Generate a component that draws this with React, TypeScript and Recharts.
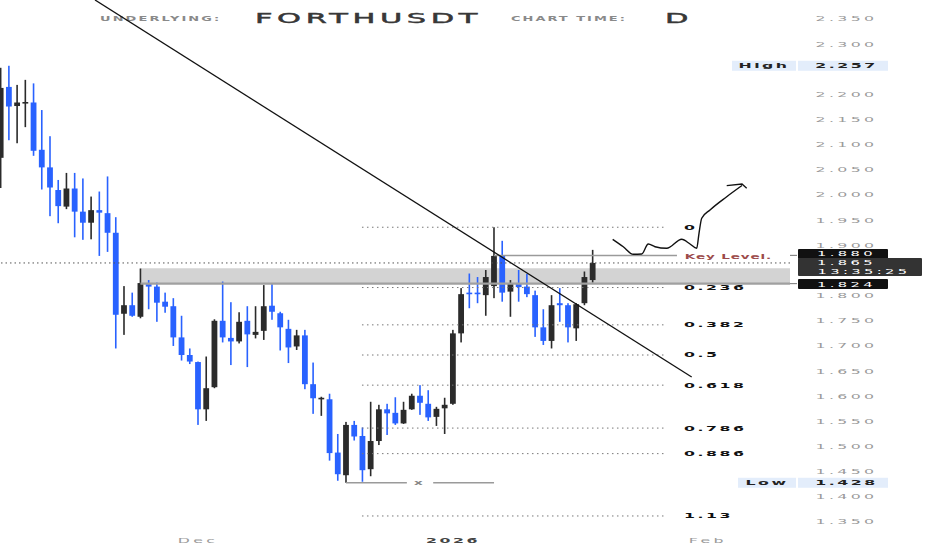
import React from 'react';
import { ComposedChart, Bar, Line, Scatter, XAxis, YAxis, ReferenceLine, ReferenceArea } from 'recharts';

const FONT = '"DejaVu Sans", sans-serif';

// Daily candles, index 0 = 7 Nov 2025
const opens = [2.074, 2.215, 2.177, 2.184, 2.184, 2.090, 2.055, 2.010, 1.977, 2.013, 1.967, 1.945, 1.970, 1.964, 1.925, 1.764, 1.781, 1.758, 1.823, 1.818, 1.788, 1.779, 1.717, 1.682, 1.668, 1.574, 1.618, 1.750, 1.716, 1.709, 1.750, 1.722, 1.730, 1.780, 1.765, 1.734, 1.699, 1.721, 1.624, 1.595, 1.594, 1.488, 1.443, 1.543, 1.521, 1.455, 1.511, 1.574, 1.567, 1.546, 1.574, 1.601, 1.585, 1.559, 1.576, 1.585, 1.725, 1.806, 1.806, 1.801, 1.819, 1.879, 1.808, 1.825, 1.818, 1.801, 1.737, 1.710, 1.785, 1.781, 1.735, 1.785, 1.831];
const highs = [2.253, 2.257, 2.219, 2.229, 2.222, 2.169, 2.117, 2.030, 2.044, 2.044, 2.033, 1.997, 2.007, 2.037, 1.956, 1.819, 1.806, 1.854, 1.831, 1.826, 1.806, 1.795, 1.760, 1.695, 1.669, 1.679, 1.753, 1.828, 1.787, 1.767, 1.779, 1.779, 1.821, 1.823, 1.768, 1.752, 1.732, 1.732, 1.667, 1.599, 1.605, 1.525, 1.549, 1.551, 1.538, 1.589, 1.583, 1.585, 1.598, 1.589, 1.605, 1.622, 1.612, 1.579, 1.597, 1.732, 1.815, 1.844, 1.837, 1.851, 1.936, 1.909, 1.831, 1.851, 1.843, 1.810, 1.773, 1.801, 1.815, 1.785, 1.785, 1.848, 1.891];
const lows = [2.014, 2.109, 2.103, 2.135, 2.078, 2.011, 1.958, 1.944, 1.972, 1.916, 1.911, 1.912, 1.879, 1.887, 1.695, 1.722, 1.758, 1.755, 1.773, 1.748, 1.766, 1.700, 1.671, 1.664, 1.543, 1.551, 1.616, 1.707, 1.662, 1.705, 1.658, 1.715, 1.712, 1.752, 1.691, 1.666, 1.692, 1.614, 1.565, 1.561, 1.472, 1.432, 1.428, 1.512, 1.430, 1.441, 1.503, 1.523, 1.543, 1.545, 1.573, 1.563, 1.551, 1.541, 1.525, 1.583, 1.707, 1.775, 1.785, 1.760, 1.795, 1.788, 1.758, 1.788, 1.797, 1.718, 1.702, 1.695, 1.748, 1.707, 1.710, 1.781, 1.826];
const closes = [2.213, 2.176, 2.184, 2.185, 2.088, 2.055, 2.015, 1.978, 2.013, 1.967, 1.945, 1.970, 1.965, 1.925, 1.762, 1.781, 1.760, 1.825, 1.818, 1.786, 1.778, 1.717, 1.682, 1.669, 1.574, 1.616, 1.750, 1.717, 1.709, 1.748, 1.723, 1.728, 1.779, 1.768, 1.737, 1.697, 1.721, 1.624, 1.596, 1.597, 1.487, 1.445, 1.543, 1.520, 1.453, 1.511, 1.574, 1.566, 1.546, 1.573, 1.601, 1.587, 1.558, 1.575, 1.583, 1.725, 1.803, 1.803, 1.803, 1.837, 1.879, 1.806, 1.825, 1.817, 1.803, 1.737, 1.710, 1.781, 1.781, 1.737, 1.783, 1.837, 1.865];

const xTickIdx = [24, 55, 86];
const xTickLabels = ['Dec', '2026', 'Feb'];
// 1.850 and 2.250 sit under the price boxes, as in the reference
const yTicks = [1.35, 1.4, 1.45, 1.5, 1.55, 1.6, 1.65, 1.7, 1.75, 1.8, 1.9, 1.95, 2.0, 2.05, 2.1, 2.15, 2.2, 2.3, 2.35];

const fibHigh = 1.936;
const fibLow = 1.428;
const fibRatios = [0, 0.236, 0.382, 0.5, 0.618, 0.786, 0.886, 1.13];
const fibNames = ['0', '0.236', '0.382', '0.5', '0.618', '0.786', '0.886', '1.13'];
const fibStartIdx = 43.94;
const fibEndIdx = 80.8;
const fibLabelIdx = 83.11;

const trendLine = [{ i: 11.47, p: 2.3878 }, { i: 84.04, p: 1.6383 }];
const squiggle = [
  { i: 74.43, p: 1.912 }, { i: 75.72, p: 1.8973 }, { i: 76.94, p: 1.8822 }, { i: 77.96, p: 1.8828 },
  { i: 78.76, p: 1.9027 }, { i: 79.58, p: 1.8973 }, { i: 81.0, p: 1.8941 }, { i: 82.83, p: 1.912 },
  { i: 83.84, p: 1.9027 }, { i: 84.65, p: 1.8941 }, { i: 84.93, p: 1.924 }, { i: 85.26, p: 1.9538 },
  { i: 86.27, p: 1.9703 }, { i: 88.3, p: 1.9967 }, { i: 90.16, p: 2.019 },
];
const arrowHead = [{ i: 88.3, p: 2.0186 }, { i: 90.16, p: 2.022 }, { i: 90.73, p: 2.0134 }];

const zoneTop = 1.8544;
const zoneBottom = 1.824;
const zoneStartIdx = 17;
const keyLevel = 1.88;
const keyLevelSeg = [60, 82.25];
const lastPrice = 1.865;
const lastTime = '13:35:25';
const highPrice = 2.257;
const lowPrice = 1.428;
const lowSegA = [42, 49.4];
const lowSegB = [52.6, 60];

const X_MIN = -0.0851;
const X_MAX = 95.997;
const Y_MIN = 1.334095;
const Y_MAX = 2.387773;

const candles = opens.map((o, i) => ({ i, o, h: highs[i], l: lows[i], c: closes[i] }));
const fibLevels = fibRatios.map((r) => fibHigh - r * (fibHigh - fibLow));
const fibLabelData = fibLevels.map((p, k) => ({ i: fibLabelIdx, p, t: fibNames[k] }));
const textMarks = [
  { i: 83.2, p: keyLevel - 0.002, t: 'Key Level.', kind: 'key' },
  { i: 50.8, p: lowPrice, t: 'x', kind: 'x' },
];

function WT(props: any) {
  const { x, y, text, size = 7.5, sx = 2.1, ls = 1.6, fill = '#999', weight = 400, anchor = 'middle', stroke } = props;
  return (
    <text
      transform={`translate(${x},${y}) scale(${sx},1)`}
      fontSize={size}
      letterSpacing={ls}
      fill={fill}
      stroke={stroke}
      strokeWidth={stroke ? 0.45 : undefined}
      fontWeight={weight}
      textAnchor={anchor}
      dominantBaseline="central"
      fontFamily={FONT}
    >
      {text}
    </text>
  );
}

const CandleShape = (props: any) => {
  const { x, y, width, height, payload } = props;
  if (!payload) return null;
  const { o, h, l, c } = payload;
  const top = Math.min(y, y + height);
  const hh = Math.abs(height);
  const k = hh / (h - l);
  const yO = top + (h - o) * k;
  const yC = top + (h - c) * k;
  const up = c >= o;
  const col = up ? '#2b2b2b' : '#2962ff';
  const cx = x + width / 2;
  const bt = Math.min(yO, yC);
  const bh = Math.max(Math.abs(yO - yC), 1.6);
  return (
    <g>
      <rect x={cx - 0.8} y={top} width={1.6} height={hh} fill={col} />
      <rect x={cx - 2.9} y={bt} width={5.8} height={bh} fill={col} />
    </g>
  );
};

const YTick = (props: any) => {
  const { x, y, payload } = props;
  return <WT x={x + 56.5} y={y} text={Number(payload.value).toFixed(3)} fill="#9a9a9a" />;
};

const XTick = (props: any) => {
  const { x, y, payload } = props;
  const k = xTickIdx.indexOf(payload.value);
  const bold = xTickLabels[k] === '2026';
  return <WT x={x} y={y + 11} text={xTickLabels[k]} fill={bold ? '#444' : '#9a9a9a'} weight={bold ? 700 : 400} ls={bold ? 1.2 : 1.6} />;
};

const boxLabel = (kind: string, value: number) => (props: any) => {
  const vb = props.viewBox;
  if (!vb) return null;
  const right = vb.x + vb.width;
  const y = vb.y;
  const txt = value.toFixed(3);
  if (kind === 'high' || kind === 'low') {
    const name = kind === 'high' ? 'High' : 'Low';
    const lx = kind === 'high' ? right - 58 : right - 52;
    return (
      <g>
        <rect x={lx} y={y - 5} width={right + 6 - lx} height={10} fill="#e3edfb" />
        <WT x={(lx + right + 6) / 2} y={y} text={name} fill="#222" weight={700} ls={1.2} />
        <rect x={right + 8} y={y - 5} width={90} height={10} fill="#e3edfb" />
        <WT x={right + 56.5} y={y} text={txt} fill="#222" weight={700} ls={1.2} />
      </g>
    );
  }
  if (kind === 'last') {
    return (
      <g>
        <rect x={right + 8} y={y - 5} width={124} height={18} fill="#333" rx={1} />
        <WT x={right + 56.5} y={y - 0.3} text={txt} fill="#fff" size={7} />
        <WT x={right + 74} y={y + 8.3} text={lastTime} fill="#fff" size={7} />
      </g>
    );
  }
  const shift = kind === 'upper' ? -1.5 : 0.5;
  return (
    <g>
      <line x1={right} x2={right + 7} y1={y} y2={y} stroke="#888" strokeWidth={1.2} />
      <rect x={right + 8} y={y + shift - 5} width={90} height={10} fill="#111" rx={1} />
      <WT x={right + 56.5} y={y + shift} text={txt} fill="#fff" size={7} />
    </g>
  );
};

export default function App() {
  return (
    <div style={{ position: 'absolute', left: 0, top: 0, width: 932, height: 550, background: '#fff', overflow: 'hidden' }}>
      <svg width={932} height={40} style={{ position: 'absolute', left: 0, top: 0 }}>
        <WT x={100} y={18.3} text="UNDERLYING:" size={6.5} sx={2} ls={1.05} fill="#8a8a8a" weight={700} anchor="start" />
        <WT x={255} y={18} text="FORTHUSDT" size={14.5} sx={2.1} ls={2.2} fill="#383838" stroke="#383838" anchor="start" />
        <WT x={511} y={18.3} text="CHART TIME:" size={6.5} sx={2} ls={1.0} fill="#8a8a8a" weight={700} anchor="start" />
        <WT x={665} y={18} text="D" size={14.5} sx={2.1} ls={0} fill="#383838" stroke="#383838" anchor="start" />
      </svg>
      <div style={{ position: 'absolute', left: 0, top: 0 }}>
        <ComposedChart width={932} height={550} data={candles} margin={{ top: 0, right: 0, bottom: 0, left: 0 }}>
          <XAxis
            dataKey="i"
            type="number"
            domain={[X_MIN, X_MAX]}
            allowDataOverflow
            ticks={xTickIdx}
            interval={0}
            height={20}
            axisLine={false}
            tickLine={false}
            tickSize={0}
            tickMargin={0}
            tick={<XTick />}
          />
          <YAxis
            orientation="right"
            type="number"
            domain={[Y_MIN, Y_MAX]}
            allowDataOverflow
            ticks={yTicks}
            interval={0}
            width={142}
            axisLine={false}
            tickLine={false}
            tickSize={0}
            tickMargin={0}
            tick={<YTick />}
          />
          <ReferenceArea x1={zoneStartIdx} x2={X_MAX} y1={zoneBottom} y2={zoneTop} fill="#d3d3d3" fillOpacity={1} stroke="none" ifOverflow="hidden" />
          {fibLevels.map((lv, k) => (
            <ReferenceLine
              key={'f' + k}
              segment={[{ x: fibStartIdx, y: lv }, { x: fibEndIdx, y: lv }]}
              stroke="#777"
              strokeWidth={1}
              strokeDasharray="1.5 3.5"
            />
          ))}
          <ReferenceLine y={lastPrice} stroke="#555" strokeWidth={1} strokeDasharray="1.5 3" />
          <ReferenceLine segment={[{ x: keyLevelSeg[0], y: keyLevel }, { x: keyLevelSeg[1], y: keyLevel }]} stroke="#9a9a9a" strokeWidth={1.5} />
          <ReferenceLine segment={[{ x: lowSegA[0], y: lowPrice }, { x: lowSegA[1], y: lowPrice }]} stroke="#9a9a9a" strokeWidth={1.3} />
          <ReferenceLine segment={[{ x: lowSegB[0], y: lowPrice }, { x: lowSegB[1], y: lowPrice }]} stroke="#9a9a9a" strokeWidth={1.3} />
          <Bar dataKey={(d: any) => [d.l, d.h]} barSize={6} shape={<CandleShape />} isAnimationActive={false} />
          <ReferenceLine segment={[{ x: zoneStartIdx, y: zoneBottom }, { x: X_MAX, y: zoneBottom }]} stroke="#a0a0a0" strokeWidth={2.3} />
          <Line data={trendLine} dataKey="p" type="linear" stroke="#111" strokeWidth={1.3} dot={false} activeDot={false} isAnimationActive={false} />
          <Line data={squiggle} dataKey="p" type="monotone" stroke="#111" strokeWidth={1.4} dot={false} activeDot={false} isAnimationActive={false} />
          <Line data={arrowHead} dataKey="p" type="linear" stroke="#111" strokeWidth={1.3} dot={false} activeDot={false} isAnimationActive={false} />
          <Scatter
            data={fibLabelData}
            dataKey="p"
            isAnimationActive={false}
            shape={(p: any) => <WT x={p.cx} y={p.cy} text={p.payload.t} fill="#111" weight={700} ls={1.2} anchor="start" />}
          />
          <Scatter
            data={textMarks}
            dataKey="p"
            isAnimationActive={false}
            shape={(p: any) =>
              p.payload.kind === 'key' ? (
                <WT x={p.cx} y={p.cy} text={p.payload.t} fill="#9c4b4b" weight={700} sx={1.8} ls={0.5} anchor="start" />
              ) : (
                <WT x={p.cx} y={p.cy} text={p.payload.t} fill="#888" weight={700} sx={1.8} ls={0} />
              )
            }
          />
          <ReferenceLine y={highPrice} stroke="none" label={boxLabel('high', highPrice)} />
          <ReferenceLine y={keyLevel} stroke="none" label={boxLabel('upper', keyLevel)} />
          <ReferenceLine y={lastPrice} stroke="none" label={boxLabel('last', lastPrice)} />
          <ReferenceLine y={zoneBottom} stroke="none" label={boxLabel('plain', zoneBottom)} />
          <ReferenceLine y={lowPrice} stroke="none" label={boxLabel('low', lowPrice)} />
        </ComposedChart>
      </div>
    </div>
  );
}
